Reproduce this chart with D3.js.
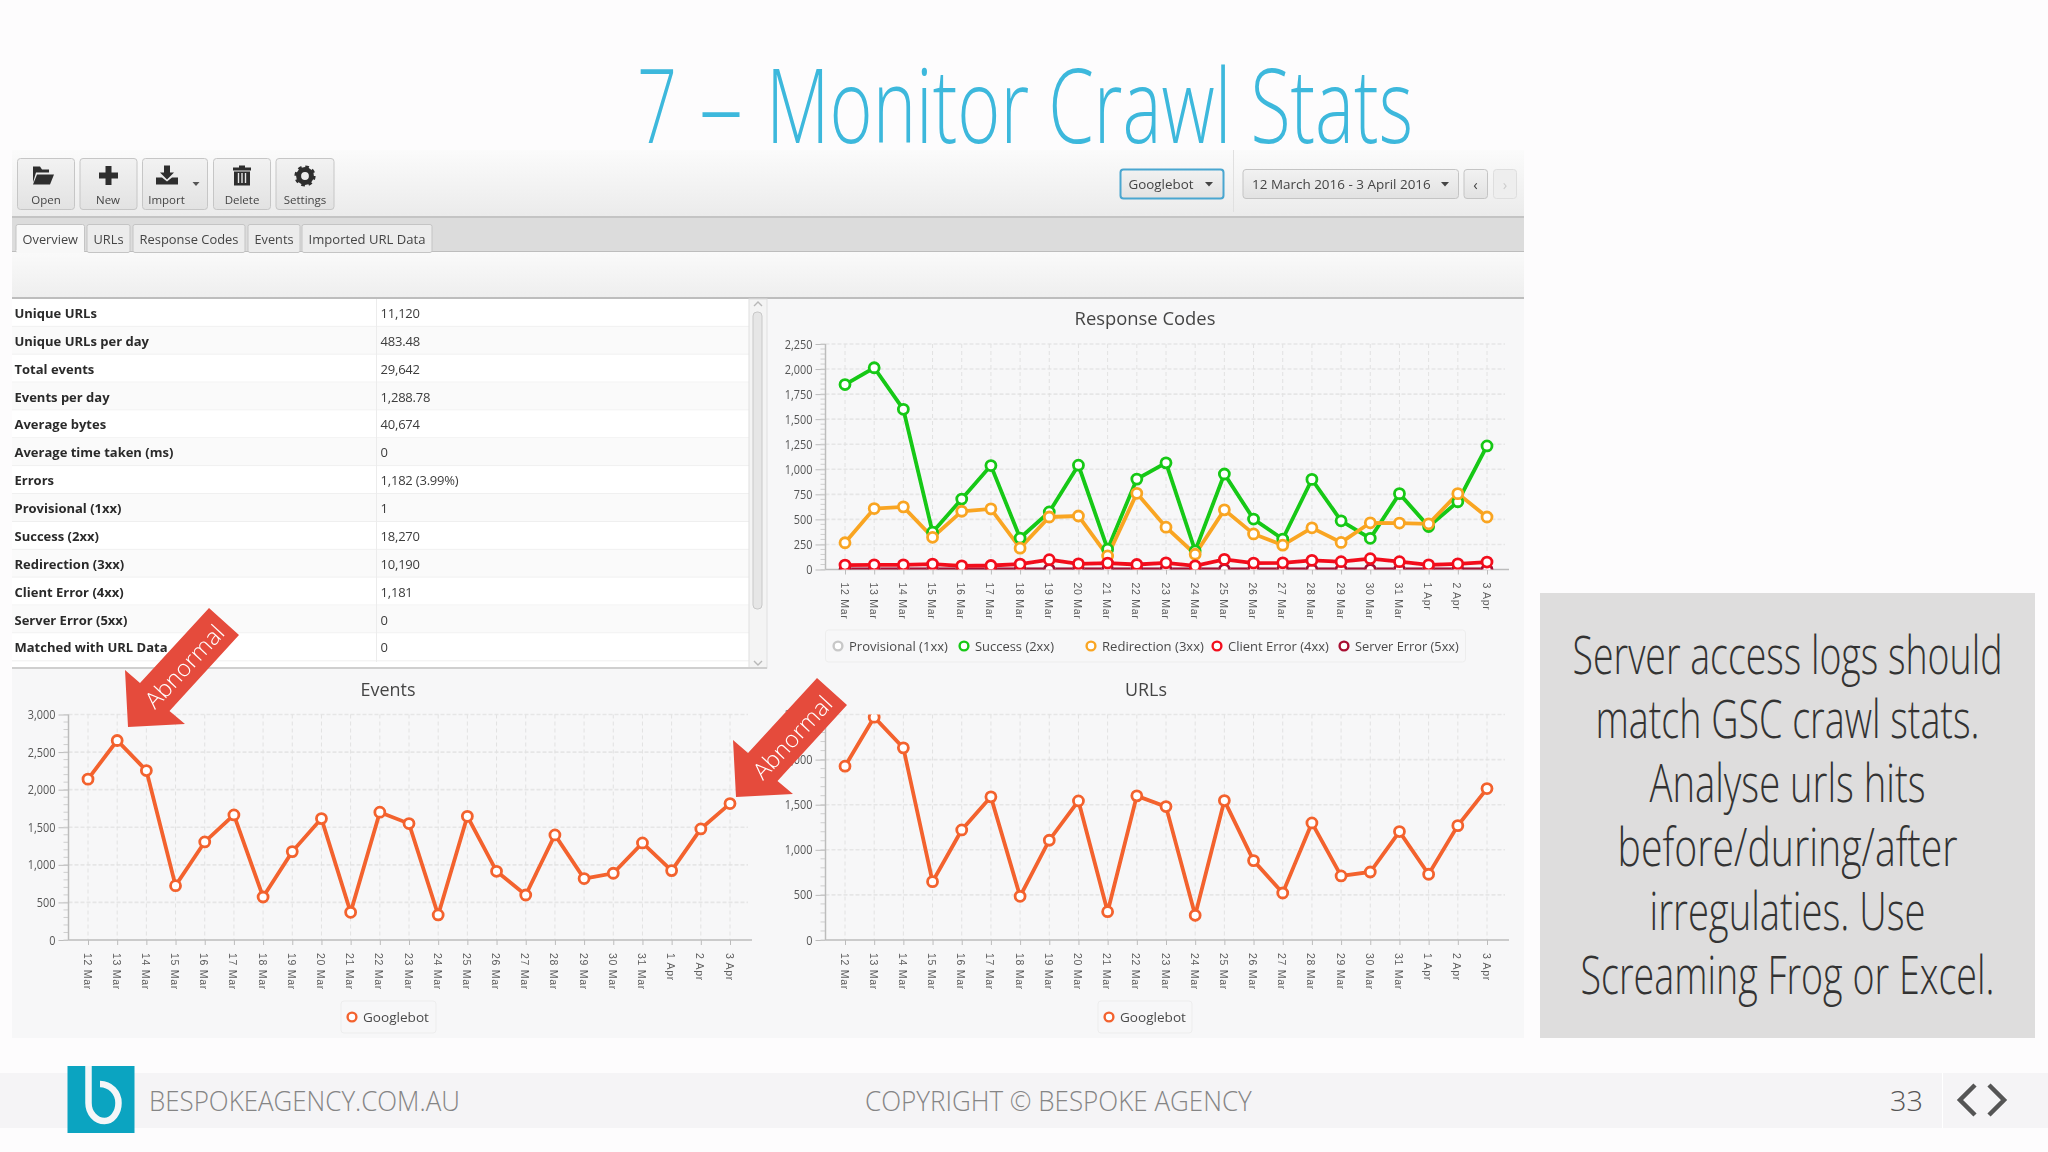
<!DOCTYPE html>
<html>
<head>
<meta charset="utf-8">
<script src="https://cdn.jsdelivr.net/npm/d3@7"></script>
<style>
  html, body { margin: 0; padding: 0; background: #fdfcfd; }
  svg { display: block; font-family: "Open Sans", sans-serif; }
</style>
</head>
<body>
<svg id="slide" width="2048" height="1152"></svg>
<script>
var dates = ["12 Mar", "13 Mar", "14 Mar", "15 Mar", "16 Mar", "17 Mar", "18 Mar", "19 Mar", "20 Mar", "21 Mar", "22 Mar", "23 Mar",
  "24 Mar", "25 Mar", "26 Mar", "27 Mar", "28 Mar", "29 Mar", "30 Mar", "31 Mar", "1 Apr", "2 Apr", "3 Apr"];

var provisional = [0, 0, 0, 0, 0, 0, 0, 0, 0, 0, 1, 0, 0, 0, 0, 0, 0, 0, 0, 0, 0, 0, 0];
var success = [1845, 2013, 1598, 372, 703, 1037, 314, 574, 1041, 203, 902, 1064, 186, 953, 503, 304, 899, 486, 311, 757, 429, 676, 1233];
var redirection = [267, 608, 625, 321, 581, 605, 213, 524, 534, 135, 760, 422, 152, 595, 355, 243, 416, 270, 466, 463, 456, 757, 524];
var clientError = [44, 47, 47, 54, 37, 40, 54, 98, 57, 64, 50, 67, 37, 101, 64, 67, 91, 78, 108, 78, 47, 57, 74];
var serverError = [0, 0, 0, 0, 0, 0, 0, 0, 0, 0, 0, 0, 0, 0, 0, 0, 0, 0, 0, 0, 0, 0, 0];
var events = [2140, 2654, 2254, 723, 1305, 1664, 572, 1176, 1615, 368, 1700, 1549, 333, 1646, 914, 599, 1398, 817, 888, 1291, 923, 1478, 1815];
var urls = [1927, 2470, 2130, 647, 1220, 1587, 484, 1106, 1542, 314, 1598, 1479, 274, 1546, 880, 521, 1298, 710, 754, 1202, 729, 1268, 1679];

var responseTicks = [0, 250, 500, 750, 1000, 1250, 1500, 1750, 2000, 2250];
var eventTicks = [0, 500, 1000, 1500, 2000, 2500, 3000];
var urlTicks = [0, 500, 1000, 1500, 2000, 2500];

var overviewLabels = ["Unique URLs", "Unique URLs per day", "Total events", "Events per day", "Average bytes", "Average time taken (ms)", "Errors",
  "Provisional (1xx)", "Success (2xx)", "Redirection (3xx)", "Client Error (4xx)", "Server Error (5xx)", "Matched with URL Data"];
var overviewValues = ["11,120", "483.48", "29,642", "1,288.78", "40,674", "0", "1,182 (3.99%)", "1", "18,270", "10,190", "1,181", "0", "0"];

var tabNames = ["Overview", "URLs", "Response Codes", "Events", "Imported URL Data"];
var toolNames = ["Open", "New", "Import", "Delete", "Settings"];
var sideLines = ["Server access logs should", "match GSC crawl stats.", "Analyse urls hits", "before/during/after", "irregulaties. Use", "Screaming Frog or Excel."];

var svg = d3.select("#slide");
var defs = svg.append("defs");

function gradient(id, from, to) {
  var g = defs.append("linearGradient").attr("id", id).attr("x1", 0).attr("y1", 0).attr("x2", 0).attr("y2", 1);
  g.append("stop").attr("offset", 0).attr("stop-color", from);
  g.append("stop").attr("offset", 1).attr("stop-color", to);
}
gradient("toolbarFill", "#fbfbfb", "#ebebeb");
gradient("stripFill", "#fafafa", "#eeeeee");
gradient("buttonFill", "#f2f2f2", "#e2e2e2");
defs.append("filter").attr("id", "soft").append("feGaussianBlur").attr("stdDeviation", 0.4);

function rect(parent, x, y, w, h, fill, stroke, rx) {
  return parent.append("rect").attr("x", x).attr("y", y).attr("width", w).attr("height", h)
    .attr("fill", fill).attr("stroke", stroke || "none").attr("rx", rx || 0);
}

// squeezes a text sideways to the width it has in the picture, the fonts here are wider
function fit(t, x, y, width) {
  var k = width / t.node().getComputedTextLength();
  t.attr("transform", "translate(" + x + "," + y + ") scale(" + k + ",1)");
  return t;
}

function label(parent, x, y, str, size, color, anchor, width) {
  var t = parent.append("text").attr("dominant-baseline", "central")
    .attr("font-size", size).attr("fill", color).attr("text-anchor", anchor || "start").text(str);
  if (width) return fit(t, x, y, width);
  return t.attr("x", x).attr("y", y);
}

function light(parent, x, y, str, size, color, anchor, width) {
  var t = parent.append("text").attr("font-size", size).attr("font-weight", 300)
    .attr("fill", color).attr("text-anchor", anchor || "start").text(str);
  return fit(t, x, y, width);
}

// slide title
light(svg, 637, 143, "7", 103, "#3db8dc", "start", 40);
light(svg, 699, 143, "\u2013", 103, "#3db8dc", "start", 44);
light(svg, 766, 143, "Monitor Crawl Stats", 103, "#3db8dc", "start", 647);

// screenshot panel
var app = svg.append("g").attr("filter", "url(#soft)");
rect(app, 12, 150, 1512, 888, "#f7f7f8");
rect(app, 12, 150, 1512, 67, "url(#toolbarFill)");
rect(app, 12, 216, 1512, 2, "#c4c4c4");
rect(app, 12, 218, 1512, 34, "#dcdcdc");
rect(app, 12, 251, 1512, 1, "#bdbdbd");
rect(app, 12, 252, 1512, 46, "url(#stripFill)");
rect(app, 12, 297, 1512, 2, "#bdbdbd");

// toolbar buttons
var toolX = [17.5, 80, 142.5, 213.5, 276];
var toolW = [57, 57, 65, 57, 58];
var toolLabelX = [46, 108, 166.5, 242, 305];
var iconX = [43, 108.5, 167, 242, 305];
var iconPaths = [
  "M-10,-9 h7 l2,3 h7 v3 h-13 l-3,10 z M-6,-1 h17 l-4,10 h-17 z",
  "M-3,-9.5 h6 v6.5 h6.5 v6 h-6.5 v6.5 h-6 v-6.5 h-6.5 v-6 h6.5 z",
  "M-3,-10 h6 v7 h4 l-7,7 l-7,-7 h4 z M-11,2 h6 l5,4 l5,-4 h6 v7 h-22 z",
  "M-3,-10 h6 v2 h6 v3 h-18 v-3 h6 z M-8,-4 h16 v14 h-16 z"
];
toolNames.forEach(function (name, i) {
  rect(app, toolX[i], 158.5, toolW[i], 51, "url(#buttonFill)", "#c6c6c6", 3);
  label(app, toolLabelX[i], 199.5, name, 11.5, "#444", "middle");
  if (i < 4) app.append("path").attr("d", iconPaths[i]).attr("transform", "translate(" + iconX[i] + ",175.5)").attr("fill", "#2e2e2e");
});
// trash slots, import caret, settings gear
[-3.5, 0, 3.5].forEach(function (dx) {
  app.append("rect").attr("x", 242 + dx - 0.7).attr("y", 173).attr("width", 1.4).attr("height", 10).attr("fill", "#e8e8e8");
});
app.append("path").attr("d", "M192.5,182 h7 l-3.5,4 z").attr("fill", "#555");
app.append("circle").attr("cx", 305).attr("cy", 176).attr("r", 6.4).attr("fill", "none").attr("stroke", "#2e2e2e").attr("stroke-width", 5);
app.append("circle").attr("cx", 305).attr("cy", 176).attr("r", 9).attr("fill", "none").attr("stroke", "#2e2e2e").attr("stroke-width", 3.2).attr("stroke-dasharray", "3.5 3.57");

// filter controls
rect(app, 1120.5, 169.5, 103, 29, "url(#buttonFill)", "#4aa6d0", 3).attr("stroke-width", 2);
label(app, 1128.5, 184, "Googlebot", 13, "#444", "start", 65);
app.append("path").attr("d", "M1205,182 h8 l-4,4.5 z").attr("fill", "#444");
rect(app, 1243, 169.5, 215.5, 29, "url(#buttonFill)", "#c4c4c4", 3);
label(app, 1252, 184, "12 March 2016 - 3 April 2016", 13, "#444", "start", 179);
app.append("path").attr("d", "M1441,182 h8 l-4,4.5 z").attr("fill", "#444");
rect(app, 1464, 169.5, 23.5, 29, "url(#buttonFill)", "#c4c4c4", 3);
label(app, 1475.5, 184, "\u2039", 15, "#444", "middle");
rect(app, 1493.5, 169.5, 23, 29, "#eeeeee", "#dedede", 3);
label(app, 1505, 184, "\u203a", 15, "#ccc", "middle");
rect(app, 1233, 150, 1, 62, "#e0e0e0");

// tabs
var tabX = [16, 87, 133, 248, 302];
var tabW = [68.5, 43, 112, 52, 130];
tabNames.forEach(function (name, i) {
  rect(app, tabX[i], 224.5, tabW[i], 28, i === 0 ? "#f8f8f8" : "#ececec", "#c4c4c4", 2);
  label(app, tabX[i] + tabW[i] / 2, 239, name, 13, "#444", "middle", tabW[i] - 13);
});
rect(app, 16.5, 250, 67.5, 3, "#f8f8f8");

// overview table
var rowH = 27.87;
rect(app, 12, 299, 755, 369, "#ffffff");
overviewLabels.forEach(function (name, i) {
  var top = 299 + i * rowH;
  rect(app, 12, top, 737, rowH, i % 2 ? "#fafafa" : "#ffffff");
  rect(app, 12, top + rowH - 1, 737, 1, "#efefef");
  label(app, 14.5, top + rowH / 2, name, 13, "#2a2a2a").attr("font-weight", 700);
  label(app, 380.5, top + rowH / 2, overviewValues[i], 13, "#3c3c3c").attr("letter-spacing", -0.2);
});
rect(app, 376, 299, 1, 363, "#ececec");
rect(app, 749, 299, 18, 369, "#f4f4f4", "#e0e0e0");
rect(app, 753, 312, 9, 297, "#e6e6e6", "#c8c8c8", 4);
app.append("path").attr("d", "M754,306 l4,-4 l4,4 M754,661 l4,4 l4,-4").attr("fill", "none").attr("stroke", "#b8b8b8").attr("stroke-width", 1.4);
rect(app, 12, 667, 755, 2, "#cfcfcf");

// charts
function drawChart(c) {
  var g = svg.append("g").attr("filter", "url(#soft)");
  var x = d3.scalePoint().domain(dates).range([c.first, c.last]);
  var y = d3.scaleLinear().domain([0, c.yMax]).range([c.bottom, c.top]);
  var step = c.ticks[1] - c.ticks[0];
  var minor = d3.range(0, c.yMax + 1, step / 5);
  var tickSqueeze = 0.87;

  label(g, c.titleX, c.titleY, c.title, 18, "#454545", "middle", c.titleW);

  // grid
  g.selectAll(".h").data(c.ticks.slice(1)).enter().append("line")
    .attr("x1", c.left).attr("x2", c.right - 4).attr("y1", y).attr("y2", y)
    .attr("stroke", "#e6e6e6").attr("stroke-width", 1.6).attr("stroke-dasharray", "4 2");
  g.selectAll(".v").data(dates).enter().append("line")
    .attr("x1", x).attr("x2", x).attr("y1", c.top).attr("y2", c.bottom)
    .attr("stroke", "#e2e2e2").attr("stroke-dasharray", "4 3");

  // axes
  var yAxis = d3.axisLeft(y).tickValues(c.ticks).tickFormat(d3.format(",")).tickSize(10).tickPadding(3);
  var yG = g.append("g").attr("transform", "translate(" + c.left + ",0)").call(yAxis);
  yG.select(".domain").remove();
  yG.selectAll("line").attr("stroke", "#bcbcbc");
  yG.selectAll("text").attr("font-size", 12.5).attr("font-family", "Open Sans").attr("fill", "#555")
    .attr("x", -13 / tickSqueeze).attr("transform", "scale(" + tickSqueeze + ",1)");
  g.selectAll(".m").data(minor).enter().append("line")
    .attr("x1", c.left - 5).attr("x2", c.left).attr("y1", y).attr("y2", y).attr("stroke", "#cfcfcf");
  g.append("line").attr("x1", c.left).attr("x2", c.left).attr("y1", c.top).attr("y2", c.bottom).attr("stroke", "#bcbcbc").attr("stroke-width", 1.5);

  var xAxis = d3.axisBottom(x).tickSize(5);
  var xG = g.append("g").attr("transform", "translate(0," + c.bottom + ")").call(xAxis);
  xG.select(".domain").remove();
  xG.selectAll("line").attr("stroke", "#bcbcbc");
  xG.selectAll("text").attr("font-family", "Liberation Sans").attr("font-size", 10.5).attr("letter-spacing", 0.7).attr("fill", "#5c5c5c")
    .attr("text-anchor", "start").attr("dominant-baseline", "central").attr("dy", 0)
    .attr("transform", "translate(-1,13) rotate(90)").attr("x", 0).attr("y", 0);
  g.append("line").attr("x1", c.left).attr("x2", c.right).attr("y1", c.bottom).attr("y2", c.bottom).attr("stroke", "#bcbcbc").attr("stroke-width", 1.5);

  // series, clipped to the plot area
  var clipId = "clip" + c.title.replace(" ", "");
  defs.append("clipPath").attr("id", clipId).append("rect")
    .attr("x", c.left).attr("y", c.top).attr("width", c.right - c.left).attr("height", c.bottom - c.top);
  var plot = g.append("g").attr("clip-path", "url(#" + clipId + ")");
  var path = d3.line().x(function (d, i) { return x(dates[i]); }).y(function (d) { return y(d); });
  c.series.forEach(function (s) {
    plot.append("path").datum(s.values).attr("d", path).attr("fill", "none").attr("stroke", s.color).attr("stroke-width", 3.8);
  });
  c.series.forEach(function (s) {
    plot.selectAll(null).data(s.values).enter().append("circle")
      .attr("cx", function (d, i) { return x(dates[i]); }).attr("cy", function (d) { return y(d); })
      .attr("r", 5).attr("fill", "#fff").attr("stroke", s.color).attr("stroke-width", 2.8);
  });

  // legend
  rect(g, c.legend.x, c.legend.y, c.legend.w, 32, "none", "#ededed", 3);
  c.series.forEach(function (s, i) {
    g.append("circle").attr("cx", c.legend.markX[i]).attr("cy", c.legend.y + 16).attr("r", 4.4).attr("fill", "#fff").attr("stroke", s.color).attr("stroke-width", 2.4);
    label(g, c.legend.markX[i] + 11, c.legend.y + 16, s.name, 13.5, "#4a4a4a", "start", c.legend.textW[i]);
  });
}

drawChart({
  title: "Response Codes", titleX: 1145, titleY: 318, titleW: 141,
  left: 825.5, right: 1509, first: 845, last: 1487, top: 344, bottom: 569.5, yMax: 2250, ticks: responseTicks,
  series: [
    { name: "Provisional (1xx)", values: provisional, color: "#c8c8c8" },
    { name: "Success (2xx)", values: success, color: "#14c814" },
    { name: "Redirection (3xx)", values: redirection, color: "#f9a523" },
    { name: "Server Error (5xx)", values: serverError, color: "#a81030" },
    { name: "Client Error (4xx)", values: clientError, color: "#f2101e" }
  ],
  legend: { x: 825.5, y: 630, w: 640, markX: [838, 964, 1091, 1344, 1217], textW: [99, 79, 102, 104, 101] }
});

drawChart({
  title: "Events", titleX: 388, titleY: 688.5, titleW: 55,
  left: 68.5, right: 752, first: 88, last: 730, top: 714.5, bottom: 940, yMax: 3000, ticks: eventTicks,
  series: [{ name: "Googlebot", values: events, color: "#f3622d" }],
  legend: { x: 341, y: 1001, w: 95, markX: [352], textW: [66] }
});

drawChart({
  title: "URLs", titleX: 1146, titleY: 688.5, titleW: 42,
  left: 825.5, right: 1509, first: 845, last: 1487, top: 714.5, bottom: 940, yMax: 2500, ticks: urlTicks,
  series: [{ name: "Googlebot", values: urls, color: "#f3622d" }],
  legend: { x: 1098, y: 1001, w: 94, markX: [1109], textW: [66] }
});

// abnormal arrows
function arrow(dx, dy, cx, cy) {
  svg.append("path").attr("transform", "translate(" + dx + "," + dy + ")")
    .attr("d", "M128,727 L125,670 L140,683 L209,608 L239,635 L169.5,711 L185,724 Z").attr("fill", "#e54b3c");
  var t = svg.append("text").attr("text-anchor", "middle").attr("dominant-baseline", "central")
    .attr("font-size", 23).attr("font-weight", 300).attr("fill", "#fff").text("Abnormal");
  var k = 104 / t.node().getComputedTextLength();
  t.attr("transform", "translate(" + cx + "," + cy + ") rotate(-47) scale(" + k + ",1)");
}
arrow(0, 0, 184, 666);
arrow(608, 70, 792, 737);

// side note
rect(svg, 1540, 593, 495, 445, "#dedddd");
var sideW = [430, 384, 276, 340, 276, 414];
sideLines.forEach(function (line, i) {
  light(svg, 1787.5, 674 + i * 64, line, 54, "#333", "middle", sideW[i]);
});

// footer
rect(svg, 0, 1073, 2048, 55, "#f5f4f6");
rect(svg, 67.5, 1066, 67, 67, "#0ba4c1");
svg.append("path").attr("d", "M88.5,1066 V1103 A16,18 0 0 0 104.5,1121 A14,18 0 0 0 118.5,1103 A18.5,19 0 0 0 100,1084")
  .attr("fill", "none").attr("stroke", "#f4f6f8").attr("stroke-width", 6.5);
light(svg, 149, 1110.5, "BESPOKEAGENCY.COM.AU", 28, "#858585", "start", 311);
light(svg, 865, 1110.5, "COPYRIGHT \u00a9 BESPOKE AGENCY", 28, "#858585", "start", 387);
light(svg, 1890, 1110.5, "33", 28, "#555", "start", 33);
rect(svg, 1942, 1073, 1, 55, "#ffffff");
svg.append("path").attr("d", "M1975,1085 L1960,1100 L1975,1115 M1989,1085 L2004,1100 L1989,1115")
  .attr("fill", "none").attr("stroke", "#555").attr("stroke-width", 4.5);
</script>
</body>
</html>
